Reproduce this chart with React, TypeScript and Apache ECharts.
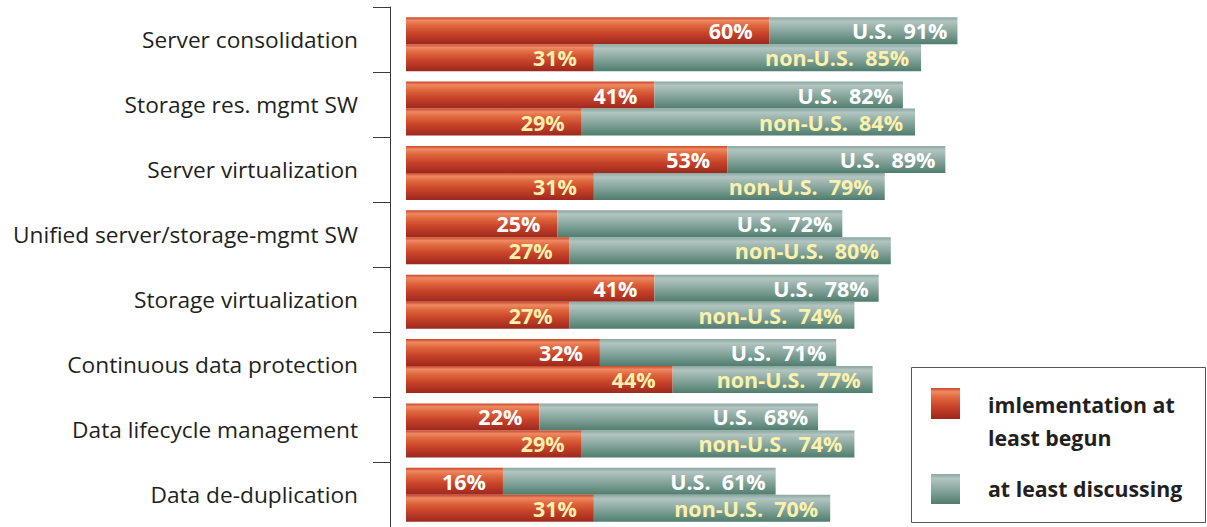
import React, { useEffect, useRef } from "react";
import * as echarts from "echarts";

const categories = [
  "Server consolidation",
  "Storage res. mgmt SW",
  "Server virtualization",
  "Unified server/storage-mgmt SW",
  "Storage virtualization",
  "Continuous data protection",
  "Data lifecycle management",
  "Data de-duplication",
];
const usImplemented = [60, 41, 53, 25, 41, 32, 22, 16];
const usDiscussing = [91, 82, 89, 72, 78, 71, 68, 61];
const nonUsImplemented = [31, 29, 31, 27, 27, 44, 29, 31];
const nonUsDiscussing = [85, 84, 79, 80, 74, 77, 74, 70];
const legendLabels = ["imlementation at\nleast begun", "at least discussing"];

const FONT = "'Open Sans', Lato, sans-serif";
const WHITE = "#ffffff";
const CREAM = "#fbf1ac";

const redGrad = () =>
  new echarts.graphic.LinearGradient(0, 0, 0, 1, [
    { offset: 0, color: "#c9452b" },
    { offset: 0.12, color: "#ee8a63" },
    { offset: 0.3, color: "#e0683f" },
    { offset: 0.6, color: "#c84329" },
    { offset: 1, color: "#9c281e" },
  ]);
const tealGrad = () =>
  new echarts.graphic.LinearGradient(0, 0, 0, 1, [
    { offset: 0, color: "#8aa79f" },
    { offset: 0.15, color: "#b2c5c1" },
    { offset: 0.5, color: "#8aa89f" },
    { offset: 1, color: "#4f7d6e" },
  ]);

export default function App() {
  const ref = useRef<HTMLDivElement>(null);
  useEffect(() => {
    document.body.style.margin = "0";
    const chart = echarts.init(ref.current!, null, { renderer: "svg" });
    const labelBase = {
      show: true,
      position: "insideRight",
      fontFamily: FONT,
      fontWeight: "bold",
      fontSize: 21.5,
    };
    const mk = (
      name: string,
      stack: string,
      data: number[],
      color: any,
      label: any
    ) => ({
      type: "bar",
      name,
      stack,
      xAxisIndex: 1,
      yAxisIndex: 1,
      barWidth: 27,
      barGap: "0%",
      data,
      itemStyle: { color },
      label,
    });
    const usRest = usDiscussing.map((v, i) => v - usImplemented[i]);
    const nonRest = nonUsDiscussing.map((v, i) => v - nonUsImplemented[i]);
    chart.setOption({
      animation: false,
      grid: [
        { left: 390, top: 7, height: 523, width: 10 },
        { left: 406, top: 12, height: 523, right: 195 },
      ],
      xAxis: [
        { gridIndex: 0, type: "value", show: false },
        { gridIndex: 1, type: "value", min: 0, max: 100, show: false },
      ],
      yAxis: [
        {
          gridIndex: 0,
          type: "category",
          inverse: true,
          data: categories,
          axisLine: { show: true, lineStyle: { color: "#3a3a3a", width: 1 } },
          axisTick: { show: true, length: 17, lineStyle: { color: "#3a3a3a", width: 1 } },
          axisLabel: {
            margin: 32,
            color: "#231f20",
            fontFamily: FONT,
            fontSize: 22.7,
          },
        },
        {
          gridIndex: 1,
          type: "category",
          inverse: true,
          data: categories,
          show: false,
        },
      ],
      series: [
        mk("us-impl", "us", usImplemented, redGrad(), {
          ...labelBase,
          distance: 17,
          color: WHITE,
          formatter: (p: any) => `${usImplemented[p.dataIndex]}%`,
        }),
        mk("us-disc", "us", usRest, tealGrad(), {
          ...labelBase,
          distance: 10,
          color: WHITE,
          formatter: (p: any) => `U.S.  ${usDiscussing[p.dataIndex]}%`,
        }),
        mk("non-impl", "non", nonUsImplemented, redGrad(), {
          ...labelBase,
          distance: 17,
          color: CREAM,
          formatter: (p: any) => `${nonUsImplemented[p.dataIndex]}%`,
        }),
        mk("non-disc", "non", nonRest, tealGrad(), {
          ...labelBase,
          distance: 12,
          color: CREAM,
          formatter: (p: any) => `non-U.S.  ${nonUsDiscussing[p.dataIndex]}%`,
        }),
      ],
      graphic: [
        {
          type: "rect",
          shape: { x: 911.5, y: 367.5, width: 294, height: 155 },
          style: { fill: "#ffffff", stroke: "#555555", lineWidth: 1 },
        },
        {
          type: "rect",
          shape: { x: 931, y: 388, width: 29, height: 31 },
          style: { fill: redGrad() },
        },
        {
          type: "rect",
          shape: { x: 931, y: 474, width: 29, height: 30 },
          style: { fill: tealGrad() },
        },
        {
          type: "text",
          x: 988,
          y: 421,
          style: {
            text: legendLabels[0],
            fontFamily: FONT,
            fontWeight: "bold",
            fontSize: 21.3,
            lineHeight: 33,
            fill: "#231f20",
            verticalAlign: "middle",
          },
        },
        {
          type: "text",
          x: 988,
          y: 488,
          style: {
            text: legendLabels[1],
            fontFamily: FONT,
            fontWeight: "bold",
            fontSize: 21.3,
            fill: "#231f20",
            verticalAlign: "middle",
          },
        },
      ],
    });
    return () => chart.dispose();
  }, []);
  return <div ref={ref} style={{ width: 1207, height: 527 }} />;
}
